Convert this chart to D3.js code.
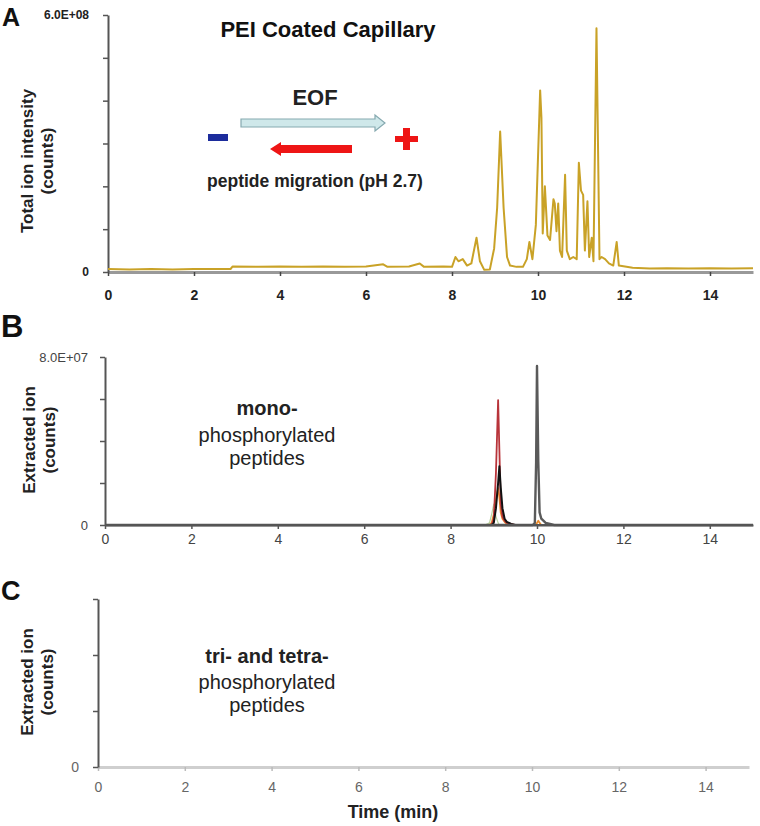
<!DOCTYPE html>
<html>
<head>
<meta charset="utf-8">
<script src="https://cdn.jsdelivr.net/npm/d3@7"></script>
<style>
  html, body { margin: 0; padding: 0; background: #fff; }
  svg { display: block; font-family: Arial, "Liberation Sans", sans-serif; }
</style>
</head>
<body>
<svg id="chart" width="760" height="826"></svg>
<script>
// ---------------- DATA ----------------
const xTicks = [0, 2, 4, 6, 8, 10, 12, 14];

// Panel A: total ion intensity (counts)
const ticTime = [0, 0.5, 1, 1.5, 2, 2.5, 2.85, 2.9, 3.5, 4, 4.5, 5, 5.5, 6, 6.4, 6.5, 7, 7.25, 7.35, 7.8, 8.0,
  8.08, 8.15, 8.25, 8.35, 8.45, 8.57, 8.65, 8.75, 8.88, 8.98, 9.05, 9.12, 9.2, 9.28, 9.35, 9.5, 9.65, 9.74, 9.8,
  9.87, 9.95, 10.05, 10.08, 10.11, 10.16, 10.22, 10.28, 10.36, 10.39, 10.43, 10.47, 10.51, 10.56, 10.63, 10.67,
  10.74, 10.82, 10.9, 10.95, 11.0, 11.05, 11.09, 11.15, 11.19, 11.25, 11.29, 11.36, 11.43, 11.48, 11.56, 11.65,
  11.75, 11.83, 11.88, 12.2, 12.6, 13, 13.5, 14, 14.5, 15];
const ticValue = [0.07e8, 0.06e8, 0.07e8, 0.06e8, 0.07e8, 0.07e8, 0.07e8, 0.13e8, 0.12e8, 0.13e8, 0.12e8, 0.13e8,
  0.12e8, 0.13e8, 0.18e8, 0.12e8, 0.13e8, 0.2e8, 0.12e8, 0.13e8, 0.12e8,
  0.35e8, 0.25e8, 0.3e8, 0.15e8, 0.2e8, 0.8e8, 0.25e8, 0.05e8, 0.06e8, 0.55e8, 1.5e8, 3.28e8, 1.5e8, 0.35e8,
  0.15e8, 0.12e8, 0.12e8, 0.3e8, 0.7e8,
  0.3e8, 1.1e8, 4.24e8, 3.6e8, 0.9e8, 2.0e8, 0.85e8, 0.75e8, 1.7e8, 1.6e8, 0.95e8, 1.6e8, 0.5e8, 0.35e8,
  2.27e8, 0.5e8,
  0.3e8, 0.35e8, 0.3e8, 2.55e8, 1.9e8, 1.8e8, 0.5e8, 1.65e8, 0.35e8, 0.8e8, 0.25e8, 5.69e8, 0.3e8, 0.35e8,
  0.3e8, 0.2e8,
  0.15e8, 0.7e8, 0.15e8, 0.1e8, 0.08e8, 0.09e8, 0.08e8, 0.09e8, 0.08e8, 0.09e8];

// Panel B: extracted ion chromatograms, mono-phosphorylated peptides (counts)
const xicTime = [0, 8.8, 8.9, 8.95, 9.0, 9.05, 9.1, 9.13, 9.16, 9.2, 9.25, 9.3, 9.4, 9.5, 9.9, 9.95, 9.98,
  10.0, 10.03, 10.06, 10.1, 10.2, 10.4, 15];
const xicGreen  = [0, 0, 0.1e7, 0.5e7, 1.0e7, 0.4e7, 0.1e7, 0, 0, 0, 0, 0, 0, 0, 0, 0, 0, 0, 0, 0, 0, 0, 0, 0];
const xicOrange = [0, 0, 0, 0.1e7, 0.5e7, 1.2e7, 1.76e7, 1.3e7, 0.6e7, 0.3e7, 0.15e7, 0.05e7, 0, 0, 0, 0, 0,
  0.1e7, 0.2e7, 0.1e7, 0, 0, 0, 0];
const xicRed    = [0, 0, 0, 0, 0.3e7, 2.5e7, 5.95e7, 3.5e7, 1.0e7, 0.4e7, 0.2e7, 0.1e7, 0.05e7, 0, 0, 0, 0,
  0, 0, 0, 0, 0, 0, 0];
const xicBlack  = [0, 0, 0, 0, 0.1e7, 0.8e7, 2.0e7, 2.8e7, 1.8e7, 0.8e7, 0.3e7, 0.15e7, 0.05e7, 0, 0, 0, 0,
  0, 0, 0, 0, 0, 0, 0];
const xicGray   = [0, 0, 0, 0, 0, 0, 0, 0, 0, 0, 0, 0, 0, 0, 0, 0.1e7, 3.0e7, 7.57e7, 3.0e7, 0.6e7, 0.3e7,
  0.1e7, 0, 0];

const bSeries = [
  { name: "green",  values: xicGreen,  color: "#b9d3a0", width: 1.2 },
  { name: "orange", values: xicOrange, color: "#e8892a", width: 1.8 },
  { name: "red",    values: xicRed,    color: "#b8343a", width: 1.8 },
  { name: "black",  values: xicBlack,  color: "#111111", width: 2 },
  { name: "gray",   values: xicGray,   color: "#5a5a5a", width: 2.4 }
];

// ---------------- DRAW ----------------
const svg = d3.select("#chart");
const font = "Arial, 'Liberation Sans', sans-serif";

function panel(cfg) {
  const x = d3.scaleLinear().domain([0, 15]).range([cfg.x0, cfg.x1]);
  const y = d3.scaleLinear().domain([0, cfg.ymax]).range([cfg.y0, cfg.y1]);
  const g = svg.append("g");

  // x axis
  const xa = g.append("g").attr("transform", `translate(0,${cfg.y0})`)
    .call(d3.axisBottom(x).tickValues(xTicks).tickSize(4).tickSizeOuter(0).tickPadding(cfg.xPad));
  xa.select(".domain").attr("stroke", cfg.xAxisColor).attr("stroke-width", cfg.xAxisWidth);
  xa.selectAll(".tick line").attr("stroke", cfg.xTickColor).attr("stroke-width", 1.5);
  xa.selectAll(".tick text").attr("font-family", font).attr("font-size", 14)
    .attr("font-weight", cfg.boldTicks ? "bold" : "normal").attr("fill", cfg.tickTextColor);

  // y axis
  const ya = g.append("g").attr("transform", `translate(${cfg.x0},0)`)
    .call(d3.axisLeft(y).tickValues(cfg.yTicks).tickSize(5).tickSizeOuter(0)
      .tickFormat(d => cfg.yLabels[cfg.yTicks.indexOf(d)] || "").tickPadding(cfg.yPad));
  ya.select(".domain").attr("stroke", "#555").attr("stroke-width", 2);
  ya.selectAll(".tick line").attr("stroke", "#555").attr("stroke-width", 1.5);
  ya.selectAll(".tick text").attr("font-family", font).attr("font-size", cfg.yFont)
    .attr("font-weight", cfg.boldTicks ? "bold" : "normal").attr("fill", cfg.tickTextColor);

  // y title
  const t = g.append("text").attr("transform", `translate(${cfg.titleX},${cfg.titleY}) rotate(-90)`)
    .attr("text-anchor", "middle").attr("font-family", font).attr("font-weight", "bold")
    .attr("font-size", 17).attr("fill", "#222");
  t.append("tspan").attr("x", 0).attr("dy", 0).text(cfg.title1);
  t.append("tspan").attr("x", 0).attr("dy", 20).text("(counts)");

  // panel letter
  g.append("text").attr("x", cfg.letterX).attr("y", cfg.letterY).attr("font-family", font)
    .attr("font-weight", "bold").attr("font-size", cfg.letterSize).attr("fill", "#111").text(cfg.letter);

  return { x, y, g };
}

// Panel A
const A = panel({
  x0: 108, x1: 753, y0: 272, y1: 15, ymax: 6e8,
  yTicks: [0, 1e8, 2e8, 3e8, 4e8, 5e8, 6e8], yLabels: ["0", "", "", "", "", "", "6.0E+08"],
  xAxisColor: "#999", xAxisWidth: 3, xTickColor: "#444", xPad: 14, yPad: 14, yFont: 12,
  boldTicks: true, tickTextColor: "#222",
  titleX: 33, titleY: 161, title1: "Total ion intensity",
  letter: "A", letterX: 2, letterY: 26, letterSize: 25
});
A.g.append("path")
  .datum(ticTime.map((t, i) => [t, ticValue[i]]))
  .attr("fill", "none").attr("stroke", "#c9a227").attr("stroke-width", 2).attr("stroke-linejoin", "round")
  .attr("d", d3.line().x(d => A.x(d[0])).y(d => A.y(d[1])));

// Annotations in A
A.g.append("text").attr("x", 328).attr("y", 37).attr("text-anchor", "middle").attr("font-family", font)
  .attr("font-weight", "bold").attr("font-size", 22).attr("fill", "#111").text("PEI Coated Capillary");
A.g.append("text").attr("x", 315).attr("y", 105).attr("text-anchor", "middle").attr("font-family", font)
  .attr("font-weight", "bold").attr("font-size", 22).attr("fill", "#222").text("EOF");
A.g.append("text").attr("x", 315).attr("y", 187).attr("text-anchor", "middle").attr("font-family", font)
  .attr("font-weight", "bold").attr("font-size", 17.5).attr("fill", "#222").text("peptide migration (pH 2.7)");
// EOF arrow (pointing right)
A.g.append("path")
  .attr("d", "M241,119 L375,119 L375,115 L385,123 L375,131 L375,127 L241,127 Z")
  .attr("fill", "#cfe8ea").attr("stroke", "#86a9b0").attr("stroke-width", 1.2);
// Peptide migration arrow (pointing left)
A.g.append("path")
  .attr("d", "M352,145 L281,145 L281,142 L270,149 L281,156 L281,153 L352,153 Z")
  .attr("fill", "#ee1515");
// minus sign
A.g.append("rect").attr("x", 208).attr("y", 134).attr("width", 20).attr("height", 7).attr("fill", "#1c2c9c");
// plus sign
A.g.append("rect").attr("x", 395).attr("y", 136).attr("width", 23).attr("height", 6).attr("fill", "#ee1515");
A.g.append("rect").attr("x", 403).attr("y", 128).attr("width", 7).attr("height", 22).attr("fill", "#ee1515");

// Panel B
const B = panel({
  x0: 105, x1: 753, y0: 525, y1: 357, ymax: 8e7,
  yTicks: [0, 2e7, 4e7, 6e7, 8e7], yLabels: ["0", "", "", "", "8.0E+07"],
  xAxisColor: "#555", xAxisWidth: 2.2, xTickColor: "#555", xPad: 5, yPad: 12, yFont: 13,
  boldTicks: false, tickTextColor: "#444",
  titleX: 35, titleY: 440, title1: "Extracted ion",
  letter: "B", letterX: 1, letterY: 337, letterSize: 31
});
bSeries.forEach(s => {
  B.g.append("path")
    .datum(xicTime.map((t, i) => [t, s.values[i]]))
    .attr("fill", "none").attr("stroke", s.color).attr("stroke-width", s.width).attr("stroke-linejoin", "round")
    .attr("d", d3.line().x(d => B.x(d[0])).y(d => B.y(d[1])));
});
// redraw x-axis line on top of baselines
B.g.append("line").attr("x1", B.x(0)).attr("x2", B.x(15)).attr("y1", 525).attr("y2", 525)
  .attr("stroke", "#555").attr("stroke-width", 2.2);
const bt = B.g.append("text").attr("text-anchor", "middle").attr("font-family", font)
  .attr("font-size", 20).attr("fill", "#222");
bt.append("tspan").attr("x", 267).attr("y", 415).attr("font-weight", "bold").text("mono-");
bt.append("tspan").attr("x", 267).attr("y", 442).text("phosphorylated");
bt.append("tspan").attr("x", 267).attr("y", 465).text("peptides");

// Panel C
const C = panel({
  x0: 98, x1: 749, y0: 767, y1: 599, ymax: 3,
  yTicks: [0, 1, 2, 3], yLabels: ["0", "", "", ""],
  xAxisColor: "#cfcfcf", xAxisWidth: 3, xTickColor: "#bbb", xPad: 11, yPad: 14, yFont: 14,
  boldTicks: false, tickTextColor: "#555",
  titleX: 33, titleY: 682, title1: "Extracted ion",
  letter: "C", letterX: 1, letterY: 600, letterSize: 27
});
C.g.selectAll(".tick text").attr("fill", "#666");
const ct = C.g.append("text").attr("text-anchor", "middle").attr("font-family", font)
  .attr("font-size", 20).attr("fill", "#222");
ct.append("tspan").attr("x", 267).attr("y", 663).attr("font-weight", "bold").text("tri- and tetra-");
ct.append("tspan").attr("x", 267).attr("y", 689).text("phosphorylated");
ct.append("tspan").attr("x", 267).attr("y", 712).text("peptides");
C.g.append("text").attr("x", 393).attr("y", 818).attr("text-anchor", "middle").attr("font-family", font)
  .attr("font-weight", "bold").attr("font-size", 18).attr("fill", "#222").text("Time (min)");
</script>
</body>
</html>
